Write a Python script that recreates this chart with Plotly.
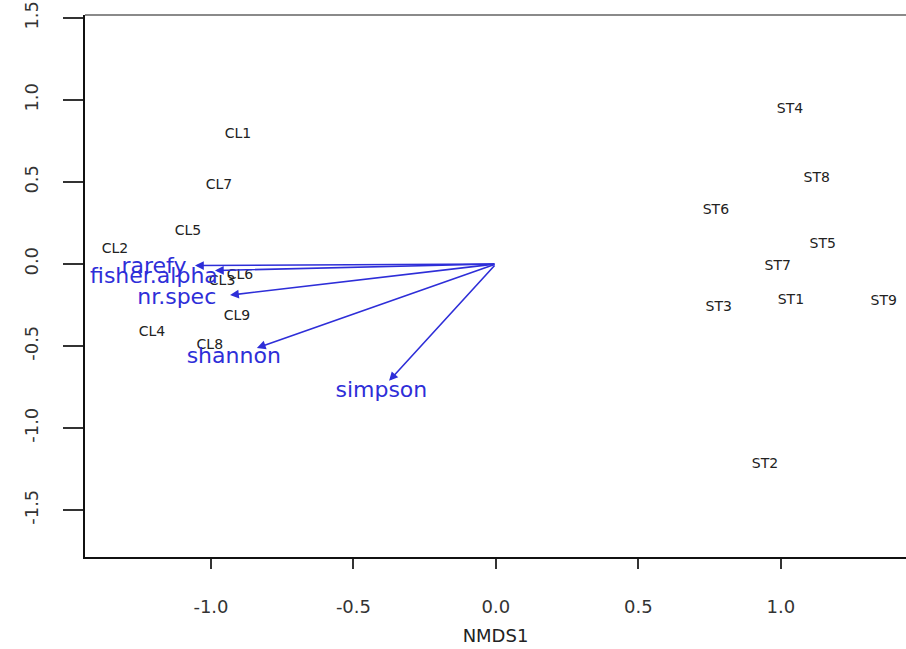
import plotly.graph_objects as go

# Site scores (NMDS1, NMDS2)
site_labels = ["CL1", "CL7", "CL5", "CL2", "CL6", "CL3", "CL9", "CL4", "CL8",
               "ST4", "ST8", "ST6", "ST5", "ST7", "ST1", "ST3", "ST9", "ST2"]
site_x = [-0.905, -0.972, -1.081, -1.337, -0.898, -0.961, -0.909, -1.207, -1.004,
          1.032, 1.126, 0.772, 1.147, 0.989, 1.035, 0.782, 1.361, 0.944]
site_y = [0.787, 0.476, 0.195, 0.091, -0.073, -0.110, -0.323, -0.421, -0.500,
          0.939, 0.524, 0.323, 0.116, -0.018, -0.220, -0.268, -0.226, -1.220]

# Fitted vectors (arrow tips) and label positions
vec_labels = ["rarefy", "fisher.alpha", "nr.spec", "shannon", "simpson"]
vec_x = [-1.056, -0.986, -0.933, -0.839, -0.375]
vec_y = [-0.010, -0.040, -0.190, -0.512, -0.713]
vec_lab_x = [-1.20, -1.20, -1.12, -0.92, -0.402]
vec_lab_y = [-0.020, -0.080, -0.210, -0.570, -0.780]

x_ticks = [-1.0, -0.5, 0.0, 0.5, 1.0]
y_ticks = [-1.5, -1.0, -0.5, 0.0, 0.5, 1.0, 1.5]

blue = "#2e2ed8"
fam = "DejaVu Sans, Verdana, sans-serif"
fig = go.Figure()

fig.add_trace(go.Scatter(
    x=site_x, y=site_y, mode="text", text=site_labels,
    textfont=dict(family=fam, size=14, color="#222222"),
    cliponaxis=True, hoverinfo="skip", showlegend=False))

fig.add_trace(go.Scatter(
    x=vec_lab_x, y=vec_lab_y, mode="text", text=vec_labels,
    textfont=dict(family=fam, size=22, color=blue),
    cliponaxis=True, hoverinfo="skip", showlegend=False))

for vx, vy in zip(vec_x, vec_y):
    fig.add_annotation(x=vx, y=vy, ax=0, ay=0, xref="x", yref="y", axref="x", ayref="y",
                       text="", showarrow=True, arrowhead=2, arrowsize=1.1,
                       arrowwidth=1.6, arrowcolor=blue)

fig.add_shape(type="line", xref="paper", yref="paper", x0=0, x1=1, y0=1, y1=1,
              line=dict(color="#8a8a8a", width=2))

tickfont = dict(family=fam, size=18, color="#333333")
fig.update_xaxes(range=[-1.442, 1.439], tickvals=x_ticks,
                 ticktext=[f"{v:.1f}" for v in x_ticks], automargin=False,
                 showgrid=False, zeroline=False, showline=True, linecolor="#111111",
                 linewidth=2, ticks="outside", ticklen=10, tickwidth=2, tickcolor="#333333",
                 tickfont=tickfont, ticklabelstandoff=22, ticklabeloverflow="allow",
                 title=dict(text="NMDS1", font=dict(family=fam, size=18, color="#222222"),
                            standoff=14))
fig.update_yaxes(range=[-1.787, 1.518], tickvals=y_ticks,
                 ticktext=[f"{v:.1f}" for v in y_ticks], automargin=False,
                 showgrid=False, zeroline=False, showline=True, linecolor="#111111",
                 linewidth=2, ticks="outside", ticklen=20, tickwidth=2, tickcolor="#333333",
                 tickfont=tickfont, tickangle=-90, ticklabelstandoff=18,
                 ticklabeloverflow="allow")

fig.update_layout(width=906, height=649, margin=dict(l=85, r=0, t=15, b=92),
                  plot_bgcolor="white", paper_bgcolor="white", showlegend=False)

fig.write_html("out.html", config={"displayModeBar": False},
               post_script="document.body.style.margin='0';")
